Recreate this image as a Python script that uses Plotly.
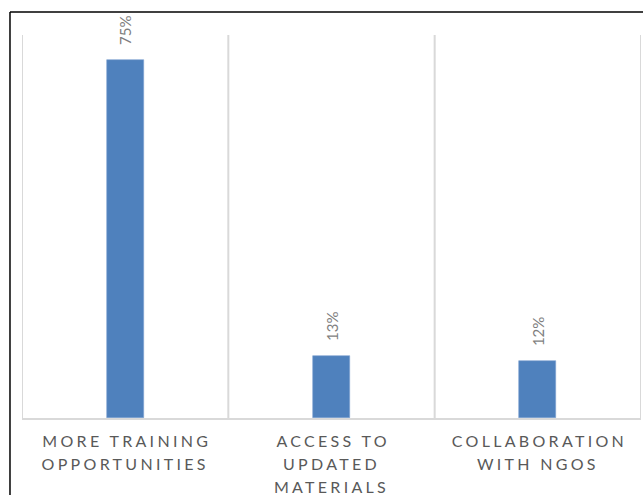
import plotly.graph_objects as go

categories = ["MORE TRAINING<br>OPPORTUNITIES", "ACCESS TO<br>UPDATED<br>MATERIALS", "COLLABORATION<br>WITH NGOS"]
values = [75, 13, 12]
value_labels = ["75%", "13%", "12%"]

bar_color = "#4f81bd"
label_color = "#7f7f7f"
axis_text_color = "#595959"
grid_color = "#d9d9d9"

fig = go.Figure()
fig.add_trace(go.Bar(
    x=[0, 1, 2],
    y=values,
    width=0.18,
    marker=dict(color=bar_color, line=dict(color="#7fa3d1", width=0.6)),
    hoverinfo="skip",
))

# rotated value labels above each bar
for i, (v, t) in enumerate(zip(values, value_labels)):
    fig.add_annotation(
        x=i, y=v, text=t, textangle=-90, showarrow=False,
        xanchor="center", yanchor="bottom", yshift=13,
        font=dict(family="Lato, sans-serif", size=15, color=label_color),
    )

# vertical separators between categories
for b in [-0.5, 0.5, 1.5, 2.5]:
    fig.add_shape(type="line", xref="x", yref="paper", x0=b, x1=b, y0=0, y1=1,
                  line=dict(color=grid_color, width=2), layer="below")

# chart frame
fig.add_shape(type="line", xref="paper", yref="paper", x0=-0.0194, x1=1.02, y0=1.06, y1=1.06,
              line=dict(color="black", width=1.5))
fig.add_shape(type="line", xref="paper", yref="paper", x0=-0.0194, x1=-0.0194, y0=1.06, y1=-0.25,
              line=dict(color="black", width=1.5))

fig.update_layout(
    width=643, height=495,
    margin=dict(l=22, r=2, t=35, b=77),
    plot_bgcolor="white", paper_bgcolor="white",
    showlegend=False,
    bargap=0,
    xaxis=dict(
        range=[-0.5, 2.5],
        tickmode="array", tickvals=[0, 1, 2], ticktext=categories,
        tickfont=dict(family="Lato, sans-serif", size=16, color=axis_text_color),
        showgrid=False, zeroline=False,
        showline=True, linecolor=grid_color, linewidth=2,
        ticks="", ticklabelstandoff=8,
        automargin=False,
        fixedrange=True,
    ),
    yaxis=dict(
        range=[0, 80.3],
        showgrid=False, zeroline=False, showticklabels=False, showline=False,
        automargin=False,
        fixedrange=True,
    ),
)

# spaced-out lettering and looser line spacing for the category labels
spacing_js = """
document.querySelectorAll('.xtick text').forEach(function (t) {
    t.style.letterSpacing = '3.3px';
    t.setAttribute('dx', '1.6');
    t.querySelectorAll('tspan.line').forEach(function (s) {
        var dy = parseFloat(s.getAttribute('dy') || '0');
        s.setAttribute('dy', (dy * 1.44 / 1.3) + 'em');
    });
});
"""

fig.write_html("out.html", post_script=spacing_js)
